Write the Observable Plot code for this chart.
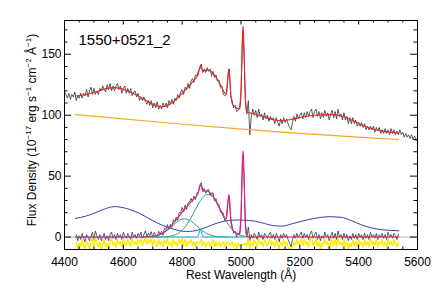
<!DOCTYPE html>
<html>
<head>
<meta charset="utf-8">
<script src="https://cdn.jsdelivr.net/npm/d3@7"></script>
<script src="https://cdn.jsdelivr.net/npm/@observablehq/plot@0.6"></script>
<style>
html,body{margin:0;padding:0;background:#fff;}
</style>
</head>
<body>
<div id="chart"></div>
<script>
// ---------- texts & ticks ----------
const titleText = "1550+0521_2";
const xLabel = "Rest Wavelength (Å)";
const xTickValues = [4400, 4600, 4800, 5000, 5200, 5400, 5600];
const yTickValues = [0, 50, 100, 150];

// ---------- observed spectrum (upper), 5 Å steps from 4400 ----------
const obsStep = 5;
const obsTopStart = 4400;
const obsTop = [
119,117,114,118,113,117,115,119,112,116,114,118,114,118,116,121,115,120,123,117,
122,117,120,117,122,120,124,121,119,125,121,126,120,124,120,124,126,121,124,118,
122,124,118,122,118,122,116,119,120,115,118,112,115,112,115,111,109,112,108,112,
106,110,106,111,105,108,105,110,107,110,106,112,109,113,109,114,112,117,114,119,
121,117,123,121,126,122,128,130,127,133,132,136,138,142,135,138,135,139,136,138,
132,136,131,133,128,129,123,124,117,116,117,130,138,116,112,106,108,103,104,106,
118,165,155,113,101,112,84,99,105,100,104,98,105,99,101,96,102,97,100,95,
99,96,98,93,98,94,91,97,93,98,94,97,93,90,88,94,99,95,101,97,
100,102,97,102,98,103,99,103,105,98,103,105,99,103,97,102,98,104,99,102,
96,101,104,98,103,97,105,99,101,96,102,96,99,93,98,93,98,93,96,91,
94,91,94,90,93,88,91,88,91,88,91,86,90,87,90,85,88,85,89,85,
88,84,89,85,88,84,87,84,88,84,86,82,85,82,84,81,84,80,83,79,
81];

// ---------- continuum-subtracted spectrum (lower), 5 Å steps from 4440 ----------
const obsLowStart = 4440;
const obsLow = [
2,-3,1,-2,3,-1,-4,2,0,-3,1,4,-2,5,1,-2,2,-3,0,3,
-2,1,-3,2,4,-1,2,-2,3,0,2,-2,4,1,-1,3,1,-2,4,0,
2,-1,3,1,4,-0.9,2.1,5.1,0.2,3.2,1.3,4.4,-0.4,3.8,2,-0.7,4.7,2.2,4.8,1.5,
7.3,6.2,10.2,6.3,10.5,7.9,14.3,12.7,16.2,13.8,20.3,19.8,24.3,20.8,26.3,22.7,28.1,28.5,31.8,29.2,
33.5,30.8,36.1,37.2,42.7,44.6,37.2,39.9,35.8,38.6,39.1,34.2,36.0,36.4,29.7,31.6,26.3,26.9,20.4,20.9,
19.5,13.3,16.3,28.3,34,14.8,9,3.2,5,0.1,3.5,1.6,17,62.9,53,11,-0.2,8.3,-2.8,2.1,
-1,3,1,-2,4,0,2,-2,3,1,-1,2,4,-1,2,-2,3,0,-4,2,
-1,3,0,2,-2,-5,-8,-2,2,-1,3,0,2,4,-1,3,0,2,-2,3,
5,-1,2,4,-2,2,-3,1,-1,4,0,2,-3,1,4,-1,3,-2,5,0,
2,-2,3,-1,2,-3,1,-2,3,-1,2,-2,3,0,2,-2,3,-1,2,-2,
4,0,2,-1,3,-2,2,0,3,-1,2,-2,4,0,2,-1,3,1,-2,2];

// ---------- residuals (yellow, shown offset), 5 Å steps from 4440 ----------
const resid = [
-4,-10,-5,-8,-2,-7,-10,-4,-6,-10,-5,-1,-8,0,-5,-8,-4,-10,-6,-2,
-8,-5,-10,-4,-1,-7,-4,-8,-2,-6,-4,-8,-1,-5,-7,-2,-5,-8,-1,-6,
-4,-7,-2,-5,-1,-7,-4,0,-6,-2,-5,-1,-7,-2,-5,-8,-2,-6,-4,-8,
-2,-5,-1,-7,-4,-8,-2,-6,-4,-8,-2,-5,-1,-7,-2,-8,-4,-5,-2,-7,
-4,-8,-4,-5,-5,-2,-7,-4,-8,-5,-4,-8,-5,-2,-8,-4,-7,-4,-8,-5,
-4,-8,-5,-4,-5,-7,-4,-8,-5,-10,-5,-7,-6,-6,-6,-5,-7,-1,-10,-4,
-7,-2,-5,-8,-1,-6,-4,-8,-2,-5,-7,-4,-1,-7,-4,-8,-2,-6,-10,-4,
-7,-2,-6,-4,-8,-10,-10,-8,-4,-7,-2,-6,-4,-1,-7,-2,-6,-4,-8,-2,
0,-7,-4,-1,-8,-4,-10,-5,-7,-1,-6,-4,-10,-5,-1,-7,-2,-8,0,-6,
-4,-8,-2,-7,-4,-10,-5,-8,-2,-7,-4,-8,-2,-6,-4,-8,-2,-7,-4,-8,
-1,-6,-4,-7,-2,-8,-4,-6,-2,-7,-4,-8,-1,-6,-4,-7,-2,-5,-8,-4];

// ---------- power-law continuum (orange) ----------
const plWave = [4437, 4794, 5004, 5536];
const plFlux = [100.5, 92.8, 88.6, 80.0];

// ---------- Fe II template (blue) ----------
const feWave = [4437,4470,4500,4530,4570,4610,4640,4670,4700,4730,4760,4790,4815,4840,4870,4900,4930,4960,4990,5030,5070,5110,5140,5175,5210,5250,5300,5340,5375,5410,5445,5480,5536];
const feFlux = [15.3,17,19.5,22.5,25,23.5,21,17.5,13.5,10,7.2,5.3,4.6,5.0,7,9.8,12.3,13.6,14,13.6,11.8,9.4,9.0,11,13.2,15.3,16.7,16.2,13.5,10,7.4,6,5.2];

// ---------- broad H-beta components (green) ----------
const g1Wave = [4658,4668,4678,4688,4698,4708,4718,4728,4738,4748,4758,4768,4778,4788,4798,4808,4818,4828,4838,4848,4858,4868,4878,4888,4898,4908,4918,4928,4938,4948,4958];
const g1Flux = [0.03,0.06,0.12,0.25,0.5,0.9,1.5,2.4,3.7,5.4,7.4,9.5,11.6,13.4,14.5,15.0,14.5,13.4,11.6,9.5,7.4,5.4,3.7,2.4,1.5,0.9,0.5,0.25,0.12,0.06,0.03];
const g2Wave = [4708,4718,4728,4738,4748,4758,4768,4778,4788,4798,4808,4818,4828,4838,4848,4858,4868,4878,4888,4898,4908,4918,4928,4938,4948,4958,4968,4978,4988,4998,5008,5018,5028,5038,5048];
const g2Flux = [0.01,0.03,0.08,0.17,0.34,0.65,1.2,2.0,3.3,5.2,7.7,11.0,14.9,19.4,24.0,28.3,31.8,34.2,35.0,34.1,31.6,27.8,23.1,18.3,13.8,9.9,6.7,4.3,2.65,1.5,0.85,0.45,0.22,0.1,0.05];

// ---------- narrow H-beta (cyan) ----------
const nbWave = [4437,4850,4852,4854,4856,4858,4860,4862,4864,4866,4868,4870,4872,4874,5010];
const nbFlux = [0,0,0.29,0.9,2.1,3.9,5.7,6.5,5.7,3.9,2.1,0.9,0.29,0,0];

// ---------- total line model (magenta) ----------
const lineWave = [4437,4648,4658,4668,4678,4688,4698,4708,4718,4728,4738,4748,4758,4768,4778,4788,4798,4808,4818,4828,4838,4848,4852,4854,4856,4858,4860,4862,4864,4866,4868,4870,4872,4878,4888,4898,4908,4918,4928,4938,4947,4949,4951,4953,4955,4957,4959,4961,4963,4965,4967,4969,4971,4978,4988,4993,4995,4997,4999,5001,5003,5005,5007,5009,5011,5013,5015,5017,5019,5021,5028,5038,5048,5060,5536];
const lineFlux = [0,0,0.03,0.06,0.12,0.25,0.5,0.9,1.5,2.5,3.9,5.7,8.0,10.7,13.6,16.7,19.7,22.7,25.5,28.3,31.0,33.5,34.7,35.7,37.4,39.6,41.7,42.8,42.3,40.8,39.3,38.2,37.8,37.9,37.4,35.6,32.5,28.3,23.4,18.4,14.6,14.6,16.1,20.0,26.3,32.4,34.6,31.1,23.5,15.8,10.4,7.6,6.3,4.3,2.65,2.25,2.6,4.7,11.0,24.0,43.7,62.9,70.9,62.6,43.2,23.3,10.0,3.6,1.2,0.55,0.22,0.1,0.05,0,0];

// ---------- total fit (red) ----------
const fitWave = [4437,4470,4500,4530,4570,4610,4640,4670,4700,4730,4760,4790,4798,4808,4818,4828,4838,4848,4852,4854,4856,4858,4860,4862,4864,4866,4868,4870,4872,4878,4888,4898,4908,4918,4928,4938,4947,4949,4951,4953,4955,4957,4959,4961,4963,4965,4967,4969,4971,4978,4988,4993,4995,4997,4999,5001,5003,5005,5007,5009,5011,5013,5015,5017,5019,5021,5028,5038,5048,5070,5110,5140,5175,5210,5250,5300,5340,5375,5410,5445,5480,5536];
const fitFlux = [115.8,116.8,118.6,121.0,122.6,120.3,117.1,113.1,108.9,106.9,109.2,115.5,117.5,120.0,122.5,125.2,127.9,130.8,132.1,133.2,135.0,137.3,139.5,140.7,140.3,138.9,137.5,136.5,136.2,136.8,137.0,135.9,133.5,129.9,125.7,121.0,117.4,117.4,119.0,122.9,129.3,135.4,137.7,134.2,126.6,118.8,113.4,110.6,109.3,107.3,105.5,105.1,105.4,107.4,113.7,126.7,146.3,165.4,173.4,165.0,145.6,125.6,112.2,105.8,103.3,102.6,102.1,101.4,100.7,99.3,96.3,95.4,96.8,98.5,99.9,100.5,99.4,96.1,92.0,88.9,86.9,85.2];

// ---------- helpers ----------
const pts = (ws, vs) => ws.map((w, i) => ({w, v: vs[i]}));
const grid = (start, vs) => vs.map((v, i) => ({w: start + obsStep * i, v}));

const W = 436, H = 290, mL = 64, mR = 19, mT = 20, mB = 41;
const fW = W - mL - mR, fH = H - mT - mB;
const xMinor = d3.range(4400, 5601, 50).filter(d => d % 200 !== 0);
const yMinor = d3.range(10, 178, 10).filter(d => d % 50 !== 0);
const tk = {stroke: "#000", strokeWidth: 1};

const chart = Plot.plot({
  width: W, height: H,
  marginLeft: mL, marginRight: mR, marginTop: mT, marginBottom: mB,
  x: {domain: [4400, 5600]},
  y: {domain: [-10.2, 177.7]},
  style: {fontFamily: "'Liberation Sans', Arial, Helvetica, sans-serif", fontSize: "12px", background: "#fff", color: "#000"},
  marks: [
    Plot.ruleY([0], {stroke: "#b8b8b8", strokeWidth: 1}),
    // lower panel
    Plot.line(grid(obsLowStart, obsLow), {x: "w", y: "v", stroke: "#333", strokeWidth: 0.8}),
    Plot.line(grid(obsLowStart, resid), {x: "w", y: "v", stroke: "#ffea00", strokeWidth: 1.4}),
    Plot.line(pts(feWave, feFlux), {x: "w", y: "v", stroke: "#3c3ca4", strokeWidth: 1, curve: "monotone-x"}),
    Plot.line(pts(g1Wave, g1Flux), {x: "w", y: "v", stroke: "#1fb066", strokeWidth: 1, curve: "monotone-x"}),
    Plot.line(pts(g2Wave, g2Flux), {x: "w", y: "v", stroke: "#1fb066", strokeWidth: 1, curve: "monotone-x"}),
    Plot.line(pts(nbWave, nbFlux), {x: "w", y: "v", stroke: "#22b4e4", strokeWidth: 1.1}),
    Plot.line(pts(lineWave, lineFlux), {x: "w", y: "v", stroke: "#e8198e", strokeWidth: 1.1, curve: "monotone-x"}),
    // upper panel
    Plot.line(grid(obsTopStart, obsTop), {x: "w", y: "v", stroke: "#333", strokeWidth: 0.8}),
    Plot.line(pts(plWave, plFlux), {x: "w", y: "v", stroke: "#f5a623", strokeWidth: 1.1, curve: "monotone-x"}),
    Plot.line(pts(fitWave, fitFlux), {x: "w", y: "v", stroke: "#e8262a", strokeWidth: 1.1, curve: "monotone-x"}),
    // frame & inward ticks on all sides
    Plot.frame({stroke: "#000", strokeWidth: 1}),
    Plot.ruleX(xTickValues, {...tk, insetTop: fH - 4.5}),
    Plot.ruleX(xTickValues, {...tk, insetBottom: fH - 4.5}),
    Plot.ruleX(xMinor, {...tk, insetTop: fH - 2.5}),
    Plot.ruleX(xMinor, {...tk, insetBottom: fH - 2.5}),
    Plot.ruleY(yTickValues, {...tk, insetRight: fW - 7}),
    Plot.ruleY(yTickValues, {...tk, insetLeft: fW - 7}),
    Plot.ruleY(yMinor, {...tk, insetRight: fW - 3.5}),
    Plot.ruleY(yMinor, {...tk, insetLeft: fW - 3.5}),
    // tick labels
    Plot.axisX(xTickValues, {anchor: "bottom", tickSize: 0, tickPadding: 8, fontSize: 12, label: null, tickFormat: d => String(d)}),
    Plot.axisY(yTickValues, {anchor: "left", tickSize: 0, tickPadding: 3, fontSize: 12, label: null}),
    // x label and title
    Plot.text([xLabel], {text: d => d, frameAnchor: "bottom", dy: 26, fontSize: 12, lineAnchor: "middle", textAnchor: "middle"}),
    Plot.text([titleText], {text: d => d, frameAnchor: "top-left", dx: 14, dy: 24, fontSize: 15, textAnchor: "start", lineAnchor: "bottom"})
  ]
});

// y-axis label with superscripts
const svg = d3.select(chart);
const yl = svg.append("text")
  .attr("transform", "translate(36,130) rotate(-90)")
  .attr("text-anchor", "middle")
  .attr("font-size", 12)
  .attr("fill", "#000");
const parts = [["Flux Density (10", false], ["−17", true], [" erg s", false], ["−1", true], [" cm", false], ["−2", true], [" Å", false], ["−1", true], [")", false]];
let raised = false;
for (const [t, sup] of parts) {
  const ts = yl.append("tspan").text(t);
  if (sup) { ts.attr("font-size", 8).attr("dy", raised ? 0 : -5); raised = true; }
  else { ts.attr("dy", raised ? 5 : 0); raised = false; }
}

document.getElementById("chart").append(chart);
</script>
</body>
</html>
